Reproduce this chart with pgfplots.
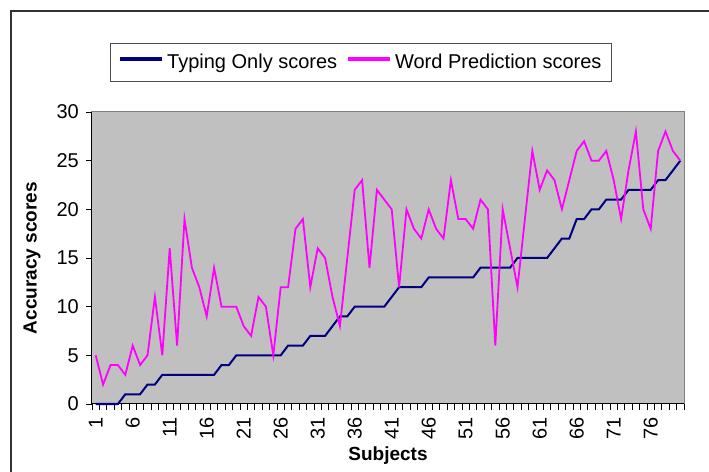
\documentclass[border=0pt]{standalone}
\usepackage{fontspec}
\setmainfont{Liberation Sans}
\usepackage{pgfplots}
\pgfplotsset{compat=1.18}
\usepackage{pgfplotstable}
\definecolor{navyline}{RGB}{0,0,128}
\definecolor{magline}{RGB}{255,0,255}
\definecolor{plotbg}{RGB}{192,192,192}

\pgfplotstableread{
x t w
1 0 5
2 0 2
3 0 4
4 0 4
5 1 3
6 1 6
7 1 4
8 2 5
9 2 11
10 3 5
11 3 16
12 3 6
13 3 19
14 3 14
15 3 12
16 3 9
17 3 14
18 4 10
19 4 10
20 5 10
21 5 8
22 5 7
23 5 11
24 5 10
25 5 5
26 5 12
27 6 12
28 6 18
29 6 19
30 7 12
31 7 16
32 7 15
33 8 11
34 9 8
35 9 15
36 10 22
37 10 23
38 10 14
39 10 22
40 10 21
41 11 20
42 12 12
43 12 20
44 12 18
45 12 17
46 13 20
47 13 18
48 13 17
49 13 23
50 13 19
51 13 19
52 13 18
53 14 21
54 14 20
55 14 6
56 14 20
57 14 16
58 15 12
59 15 19
60 15 26
61 15 22
62 15 24
63 16 23
64 17 20
65 17 23
66 19 26
67 19 27
68 20 25
69 20 25
70 21 26
71 21 23
72 21 19
73 22 24
74 22 28
75 22 20
76 22 18
77 23 26
78 23 28
79 24 26
80 25 25
}\scores

\begin{document}
\begin{tikzpicture}
\path[use as bounding box] (0,0) rectangle (709bp,472bp);
\fill[white] (0,0) rectangle (709bp,472bp);
\draw[line width=1.2bp, black!80] (11bp,0) -- (11bp,461bp) -- (709bp,461bp);
\begin{axis}[
  at={(92bp,68bp)}, anchor=south west,
  scale only axis, width=592bp, height=292bp,
  xmin=0.5, xmax=80.5, ymin=0, ymax=30, enlargelimits=false,
  clip=false,
  every non boxed x axis/.style={}, every non boxed y axis/.style={},
  axis x line*=bottom, axis y line*=left,
  axis line style={black, line width=1bp},
  axis background/.style={fill=plotbg, draw=black!50, line width=1bp},
  tick align=outside,
  major tick length=6bp, minor tick length=6bp,
  xtick={1,6,...,76},
  minor xtick={0.5,1.5,...,80.5},
  every major x tick/.append style={draw=none},
  every minor x tick/.append style={black, line width=0.8bp},
  ytick={0,5,...,30},
  every major y tick/.append style={black, line width=0.8bp},
  /pgf/number format/assume math mode=true,
  yticklabel style={font=\fontsize{20bp}{24bp}\selectfont, inner sep=0pt, anchor=east, xshift=-7bp},
  xticklabel style={font=\fontsize{20bp}{24bp}\selectfont, rotate=90, anchor=east, inner sep=0pt, xshift=-7bp},
  xlabel={Subjects},
  xlabel style={font=\fontsize{19bp}{23bp}\selectfont\bfseries, at={(axis description cs:0.5,-0.1473)}, anchor=north, inner sep=0pt},
  ylabel={Accuracy scores},
  ylabel style={font=\fontsize{19bp}{23bp}\selectfont\bfseries, at={(axis description cs:-0.1014,0.5)}, anchor=center, inner sep=0pt},
  legend columns=-1,
  legend cell align=left,
  legend style={
    at={(0.0304,1.236)}, anchor=north west,
    draw=black!70, fill=white,
    inner xsep=10bp, inner ysep=11bp,
    font=\fontsize{20bp}{24bp}\selectfont,
    nodes={inner sep=0pt},
    column sep=5bp,
  },
]
\addplot[draw=navyline, line width=2bp, mark=none,
  legend image code/.code={\fill[navyline] (0bp,2.5bp) rectangle (40bp,4bp);}] table[x=x,y=t]{\scores};
\addlegendentry{Typing Only scores\hspace*{6bp}}
\addplot[draw=magline, line width=1.8bp, mark=none,
  legend image code/.code={\fill[magline] (0bp,2.5bp) rectangle (40bp,4bp);}] table[x=x,y=w]{\scores};
\addlegendentry{Word Prediction scores}
\end{axis}
\end{tikzpicture}
\end{document}
